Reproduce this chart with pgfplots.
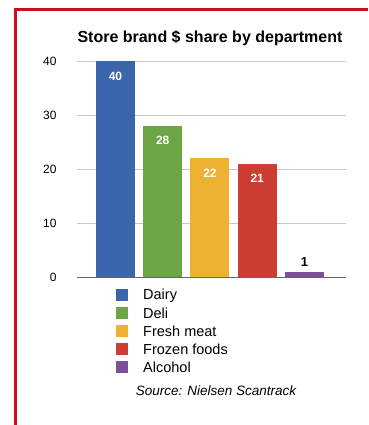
\documentclass[border=0pt]{standalone}
\usepackage{fontspec}
\setmainfont{Liberation Sans}
\usepackage{pgfplots}
\pgfplotsset{compat=1.18}
\definecolor{cblue}{HTML}{3A66AC}
\definecolor{cgreen}{HTML}{6BA544}
\definecolor{cyellow}{HTML}{EDB232}
\definecolor{cred}{HTML}{CC3D33}
\definecolor{cpurple}{HTML}{7D4F9A}
\definecolor{frame}{HTML}{C8101A}
\begin{document}
\begin{tikzpicture}[x=1pt,y=1pt]
\useasboundingbox[fill=white] (0,0) rectangle (368,-425);
\draw[frame, line width=3pt] (15.5,-425) -- (15.5,-10) -- (368,-10);
\begin{axis}[
  at={(77pt,-277pt)}, anchor=south west,
  scale only axis, width=269pt, height=216pt,
  xmin=-0.815, xmax=4.88, ymin=0, ymax=40,
  axis line style={draw=none},
  xtick=\empty, ytick={0,10,20,30,40},
  ymajorgrids, grid style={gray!45, line width=0.8pt},
  major tick length=0pt,
  yticklabel style={font=\fontsize{12}{14}\selectfont, xshift=-17pt},
  /pgf/number format/assume math mode=true,
  clip=false,
  bar width=39pt,
]
\addplot[ybar, bar shift=0pt, fill=cblue, draw=none] coordinates {(0,40)};
\addplot[ybar, bar shift=0pt, fill=cgreen, draw=none] coordinates {(1,28)};
\addplot[ybar, bar shift=0pt, fill=cyellow, draw=none] coordinates {(2,22)};
\addplot[ybar, bar shift=0pt, fill=cred, draw=none] coordinates {(3,21)};
\addplot[ybar, bar shift=0pt, fill=cpurple, draw=none] coordinates {(4,1)};
\addplot[only marks, mark=none, nodes near coords, point meta=explicit symbolic,
  nodes near coords style={anchor=center, yshift=-15pt, text=white, font=\bfseries\fontsize{12}{14}\selectfont}]
  coordinates {(0,40)[40] (1,28)[28] (2,22)[22] (3,21)[21]};
\addplot[only marks, mark=none, nodes near coords, point meta=explicit symbolic,
  nodes near coords style={anchor=south, yshift=2pt, text=black, font=\bfseries\fontsize{13}{15}\selectfont}]
  coordinates {(4,1)[1]};
\draw[gray!80!black, line width=1pt] (axis cs:-0.815,0) -- (axis cs:4.88,0);
\end{axis}
\node[font=\bfseries\fontsize{16}{19}\selectfont] at (210pt,-38pt) {Store brand \$ share by department};
\foreach \c/\t [count=\i from 0] in {cblue/Dairy, cgreen/Deli, cyellow/Fresh meat, cred/Frozen foods, cpurple/Alcohol} {
  \fill[\c] (116pt,{-289pt-18pt*\i}) rectangle (128pt,{-301pt-18pt*\i});
  \node[anchor=west, font=\fontsize{14.5}{16}\selectfont, inner sep=0pt] at (143pt,{-295.5pt-18pt*\i}) {\t};
}
\node[font=\itshape\fontsize{13.5}{16}\selectfont] at (216pt,-391pt) {Source: Nielsen Scantrack};
\end{tikzpicture}
\end{document}
